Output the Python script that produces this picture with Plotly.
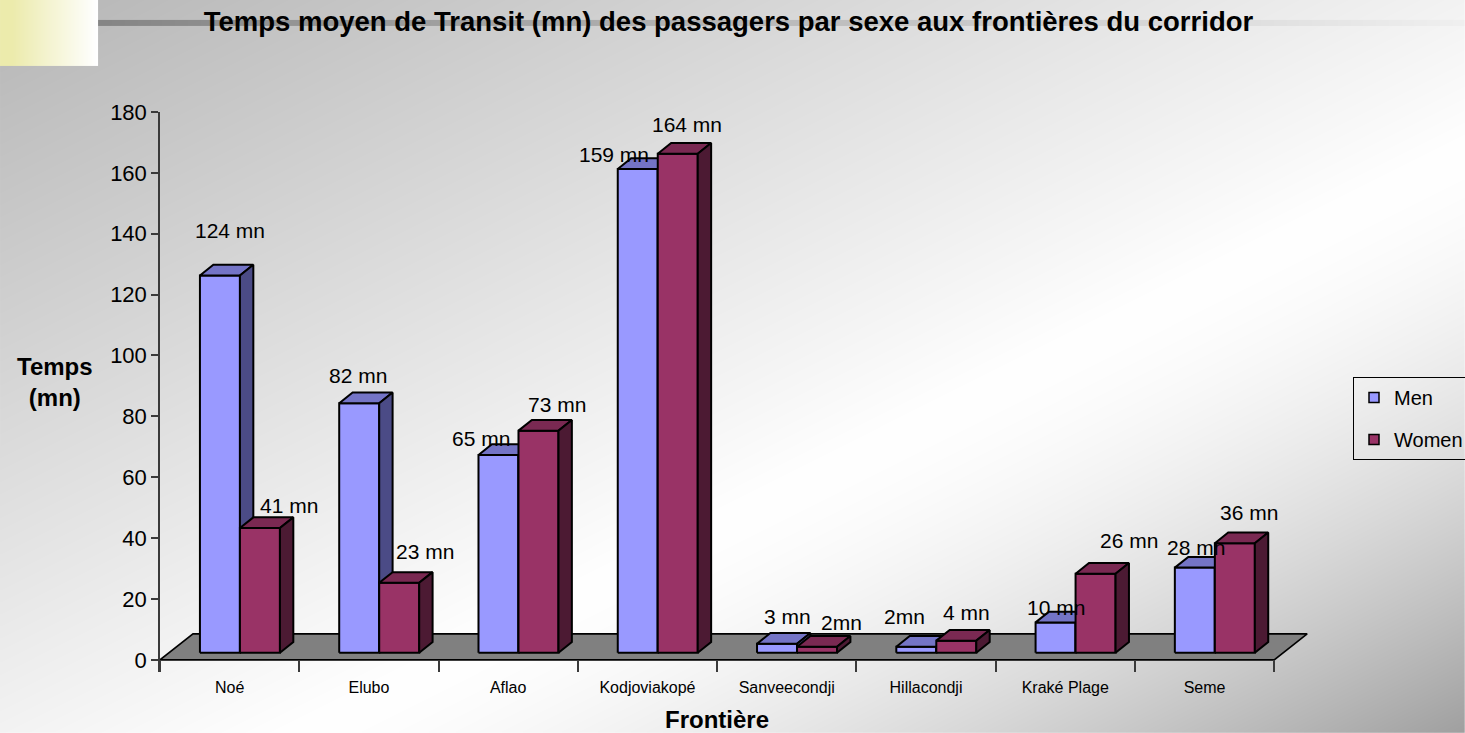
import base64
import struct
import zlib

import numpy as np
import plotly.graph_objects as go

# ---------------- data ----------------
frontieres = ["Noé", "Elubo", "Aflao", "Kodjoviakopé", "Sanveecondji",
              "Hillacondji", "Kraké Plage", "Seme"]
hommes = [124, 82, 65, 159, 3, 2, 10, 28]
femmes = [41, 23, 73, 164, 2, 4, 26, 36]
etiquettes_hommes = ["124 mn", "82 mn", "65 mn", "159 mn", "3 mn", "2mn", "10 mn", "28 mn"]
etiquettes_femmes = ["41 mn", "23 mn", "73 mn", "164 mn", "2mn", "4 mn", "26 mn", "36 mn"]
y_ticks = [0, 20, 40, 60, 80, 100, 120, 140, 160, 180]

# label nudges (pixels, right / up) as placed in the original chart
dx_h = [10, -1, -17, -24, 10, -12, 0, 1]
dy_h = [45, 28, 17, 14, 27, 30, 15, 20]
dx_f = [29, 26, 19, 9, 24, 10, 33, 14]
dy_f = [23, 31, 26, 29, 24, 28, 33, 31]

# ---------------- geometry / style ----------------
W, H = 1465, 733
PX, PY = 139.3, 3.044           # pixels per category unit / per minute
ML, Y0PX = 160, 660
XMAX, YMIN, YMAX = 8.25, -4, 180
PW = XMAX * PX
PH = (YMAX - YMIN) * PY
MT = Y0PX - YMAX * PY
MB = H - MT - PH
MR = W - ML - PW

BAR_W = 40 / PX
PAIR_SHIFT = 10.3 / PX
BASE = 7 / PY                   # bars stand mid-depth on the floor
DDX, DDY = 13.4 / PX, 10.7 / PY # bar depth
FDX, FDY = 33 / PX, 26 / PY     # floor depth

FONT = "Liberation Sans, Arial, sans-serif"
C_MEN = ("#9999FF", "#7474C6", "#4B4B86")
C_WOM = ("#993366", "#7A2952", "#4C1A33")


def png_uri(img):
    h, w, _ = img.shape
    a = img.astype(np.int16)
    f = np.empty((h, 1 + w * 3), dtype=np.uint8)
    f[:, 0] = 2
    f[0, 0] = 0
    f[0, 1:] = img[0].reshape(-1)
    f[1:, 1:] = ((a[1:] - a[:-1]) % 256).astype(np.uint8).reshape(h - 1, -1)

    def chunk(tag, data):
        return (struct.pack(">I", len(data)) + tag + data
                + struct.pack(">I", zlib.crc32(tag + data) & 0xFFFFFFFF))

    ihdr = struct.pack(">IIBBBBB", w, h, 8, 2, 0, 0, 0)
    png = (b"\x89PNG\r\n\x1a\n" + chunk(b"IHDR", ihdr)
           + chunk(b"IDAT", zlib.compress(f.tobytes(), 9)) + chunk(b"IEND", b""))
    return "data:image/png;base64," + base64.b64encode(png).decode()


# slide background: diagonal grey gradient, yellow corner block, grey title rule
xs = (np.arange(W) + 0.5)[None, :]
ys = (np.arange(H) + 0.5)[:, None]
u = xs / W + ys / H
v = np.where(u <= 1.2, 182 + 73 * (u / 1.2),
             255 - 95 * np.clip((u - 1.2) / 0.8, 0, 1) ** 1.6)
bg = np.repeat(v[:, :, None], 3, axis=2)
t = np.clip((np.arange(98) - 10) / 85.0, 0, 1)[None, :, None]
yellow = np.array([236, 235, 172])[None, None, :]
bg[0:66, 0:98, :] = yellow * (1 - t) + 255 * t
xl = np.arange(98, W)
line_c = 133 + (240 - 133) * (xl - 98) / (W - 98)
bg[20:26, 98:W, :] = line_c[None, :, None]
bg_uri = png_uri(np.clip(bg, 0, 255).astype(np.uint8))


def polys(vals, x0s, kind):
    xs_, ys_ = [], []
    for x0, val in zip(x0s, vals):
        x1 = x0 + BAR_W
        top = BASE + val
        if kind == "front":
            px = [x0, x1, x1, x0, x0]
            py = [BASE, BASE, top, top, BASE]
        elif kind == "top":
            px = [x0, x1, x1 + DDX, x0 + DDX, x0]
            py = [top, top, top + DDY, top + DDY, top]
        else:
            px = [x1, x1 + DDX, x1 + DDX, x1, x1]
            py = [BASE, BASE + DDY, top + DDY, top, BASE]
        xs_ += px + [None]
        ys_ += py + [None]
    return xs_, ys_


n = len(frontieres)
x0_men = [i + 0.5 + PAIR_SHIFT - BAR_W for i in range(n)]
x0_wom = [i + 0.5 + PAIR_SHIFT for i in range(n)]

fig = go.Figure()

# floor
fig.add_trace(go.Scatter(
    x=[0, n, n + FDX, FDX, 0], y=[0, 0, FDY, FDY, 0], mode="lines",
    fill="toself", fillcolor="#808080", line=dict(color="black", width=1.6),
    showlegend=False, hoverinfo="skip"))

for vals, x0s, cols, name in ((hommes, x0_men, C_MEN, "Men"),
                              (femmes, x0_wom, C_WOM, "Women")):
    for kind, col in zip(("front", "top", "side"), cols):
        px, py = polys(vals, x0s, kind)
        fig.add_trace(go.Scatter(
            x=px, y=py, mode="lines", fill="toself", fillcolor=col,
            line=dict(color="black", width=2), showlegend=False,
            hoverinfo="skip", name=name))

# legend entries
for name, col, grp in (("Men", C_MEN[0], "a"), ("Women", C_WOM[0], "b")):
    fig.add_trace(go.Scatter(
        x=[None], y=[None], mode="markers", name=name, legendgroup=grp,
        marker=dict(symbol="square", size=10, color=col,
                    line=dict(color="black", width=1.5))))

annotations = []
for i in range(n):
    annotations.append(dict(
        x=x0_men[i] + BAR_W / 2, y=BASE + hommes[i], xref="x", yref="y",
        text=etiquettes_hommes[i], showarrow=False, xshift=dx_h[i], yshift=dy_h[i],
        font=dict(family=FONT, size=21, color="black")))
    annotations.append(dict(
        x=x0_wom[i] + BAR_W / 2, y=BASE + femmes[i], xref="x", yref="y",
        text=etiquettes_femmes[i], showarrow=False, xshift=dx_f[i], yshift=dy_f[i],
        font=dict(family=FONT, size=21, color="black")))

annotations.append(dict(
    x=(55 - ML) / PW, y=(MT + PH - 382) / PH, xref="paper", yref="paper",
    xanchor="center", yanchor="middle",
    text="Temps<br>(mn)", showarrow=False, align="center",
    font=dict(family=FONT, size=24, color="black", weight="bold")))
annotations.append(dict(
    x=(717 - ML) / PW, y=(MT + PH - 720) / PH, xref="paper", yref="paper",
    xanchor="center", yanchor="middle",
    text="Frontière", showarrow=False,
    font=dict(family=FONT, size=24, color="black", weight="bold")))

fig.update_layout(
    width=W, height=H,
    margin=dict(l=ML, r=MR, t=MT, b=MB, pad=0),
    paper_bgcolor="white",
    plot_bgcolor="rgba(0,0,0,0)",
    font=dict(family=FONT, color="black"),
    title=dict(
        text="Temps moyen de Transit (mn) des passagers par sexe aux frontières du corridor",
        x=728.5 / W, xanchor="center", y=1 - 21 / H, yanchor="middle",
        font=dict(family=FONT, size=27.5, color="black", weight="bold")),
    images=[dict(source=bg_uri, xref="paper", yref="paper",
                 x=-ML / PW, y=(MT + PH) / PH, sizex=W / PW, sizey=H / PH,
                 xanchor="left", yanchor="top", sizing="stretch", layer="below")],
    xaxis=dict(
        range=[0, XMAX], showgrid=False, zeroline=False, showline=False,
        tickmode="array", tickvals=[i + 0.5 for i in range(n)], ticktext=frontieres,
        ticks="", tickfont=dict(family=FONT, size=16, color="black"),
        ticklabelstandoff=4,
        minor=dict(tickmode="array", tickvals=list(range(n + 1)), ticks="inside",
                   ticklen=12, tickwidth=1.5, tickcolor="#3a3a3a", showgrid=False),
        fixedrange=True),
    yaxis=dict(
        range=[YMIN, YMAX], showgrid=False, zeroline=False, showline=True,
        linecolor="#3a3a3a", linewidth=1.5, tickmode="array", tickvals=y_ticks,
        ticks="outside", ticklen=7, tickwidth=1.5, tickcolor="#3a3a3a",
        tickfont=dict(family=FONT, size=22, color="black"), fixedrange=True),
    legend=dict(
        xref="container", yref="container", x=1353 / W, y=1 - 377 / H,
        xanchor="left", yanchor="top", bgcolor="rgba(0,0,0,0)",
        bordercolor="black", borderwidth=1, tracegroupgap=13,
        traceorder="grouped", font=dict(family=FONT, size=20, color="black")),
    annotations=annotations,
    showlegend=True,
    hovermode=False,
)

fig.write_html(
    "out.html",
    config={"displayModeBar": False},
    post_script="document.body.style.margin='0';document.body.style.overflow='hidden';",
)
